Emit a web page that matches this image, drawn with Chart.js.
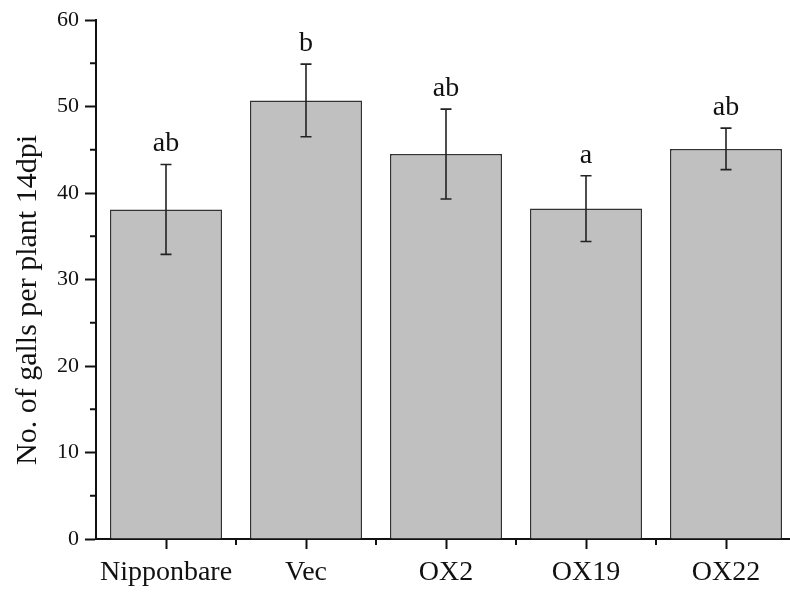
<!DOCTYPE html>
<html>
<head>
<meta charset="utf-8">
<script src="https://cdn.jsdelivr.net/npm/chart.js@4/dist/chart.umd.min.js"></script>
<style>
    html, body { margin: 0; padding: 0; background: #fff; overflow: hidden; }
    #wrap { width: 800px; height: 592px; }
</style>
</head>
<body>
<div id="wrap"><canvas id="chart" width="800" height="592"></canvas></div>
<script>
const categories = ['Nipponbare', 'Vec', 'OX2', 'OX19', 'OX22'];
const means = [38.1, 50.7, 44.5, 38.2, 45.1];
const errors = [5.2, 4.2, 5.2, 3.8, 2.4];
const letters = ['ab', 'b', 'ab', 'a', 'ab'];
const yTicks = [0, 10, 20, 30, 40, 50, 60];
const yMinorTicks = [5, 15, 25, 35, 45, 55];
const yTitle = 'No. of galls per plant 14dpi';

const serif = '"Liberation Serif", "Times New Roman", serif';

// error bars, significance letters, minor ticks and the y title
const extrasPlugin = {
    id: 'extras',
    afterDatasetsDraw(chart) {
        const ctx = chart.ctx;
        const x = chart.scales.x;
        const y = chart.scales.y;
        ctx.save();
        ctx.strokeStyle = '#222';
        ctx.lineWidth = 1.6;
        means.forEach((m, i) => {
            const px = x.getPixelForValue(i);
            const top = y.getPixelForValue(m + errors[i]);
            const bot = y.getPixelForValue(m - errors[i]);
            ctx.beginPath();
            ctx.moveTo(px, top); ctx.lineTo(px, bot);
            ctx.moveTo(px - 5.5, top); ctx.lineTo(px + 5.5, top);
            ctx.moveTo(px - 5.5, bot); ctx.lineTo(px + 5.5, bot);
            ctx.stroke();

            ctx.fillStyle = '#111';
            ctx.font = '28px ' + serif;
            ctx.textAlign = 'center';
            ctx.textBaseline = 'alphabetic';
            ctx.fillText(letters[i], px, top - 13);
        });

        // minor ticks
        ctx.strokeStyle = '#111';
        ctx.lineWidth = 2;
        const left = chart.chartArea.left;
        const bottom = chart.chartArea.bottom;
        ctx.beginPath();
        yMinorTicks.forEach(v => {
            const py = y.getPixelForValue(v);
            ctx.moveTo(left - 6, py); ctx.lineTo(left, py);
        });
        for (let i = 0; i < categories.length; i++) {
            const px = x.getPixelForValue(i + 0.5);
            ctx.moveTo(px, bottom); ctx.lineTo(px, bottom + 6);
        }
        ctx.stroke();

        // y axis title
        ctx.translate(28, 300);
        ctx.rotate(-Math.PI / 2);
        ctx.fillStyle = '#111';
        ctx.font = '30px ' + serif;
        ctx.textAlign = 'center';
        ctx.textBaseline = 'middle';
        ctx.fillText(yTitle, 0, 0);
        ctx.restore();
    }
};

new Chart(document.getElementById('chart'), {
    type: 'bar',
    data: {
        labels: categories,
        datasets: [{
            data: means,
            backgroundColor: '#c0c0c0',
            borderColor: '#333',
            borderWidth: 1.5,
            borderSkipped: 'bottom',
            barPercentage: 0.8,
            categoryPercentage: 1.0
        }]
    },
    options: {
        responsive: false,
        animation: false,
        layout: { padding: { left: 0, top: 20, right: 4, bottom: 0 } },
        plugins: {
            legend: { display: false },
            tooltip: { enabled: false }
        },
        scales: {
            x: {
                offset: true,
                grid: {
                    drawOnChartArea: false,
                    drawTicks: true,
                    tickLength: 10,
                    tickWidth: 2,
                    tickColor: '#111',
                    offset: false
                },
                border: { color: '#111', width: 2 },
                ticks: {
                    color: '#111',
                    font: { family: serif, size: 28 },
                    padding: 7,
                    maxRotation: 0
                },
                afterFit: scale => { scale.height = 53; }
            },
            y: {
                min: 0,
                max: 60,
                afterBuildTicks: scale => {
                    scale.ticks = yTicks.map(v => ({ value: v }));
                },
                grid: {
                    drawOnChartArea: false,
                    drawTicks: true,
                    tickLength: 11,
                    tickWidth: 2,
                    tickColor: '#111'
                },
                border: { color: '#111', width: 2 },
                ticks: {
                    color: '#111',
                    font: { family: serif, size: 22 },
                    padding: 6
                },
                afterFit: scale => { scale.width = 96; }
            }
        }
    },
    plugins: [extrasPlugin]
});
</script>
</body>
</html>
